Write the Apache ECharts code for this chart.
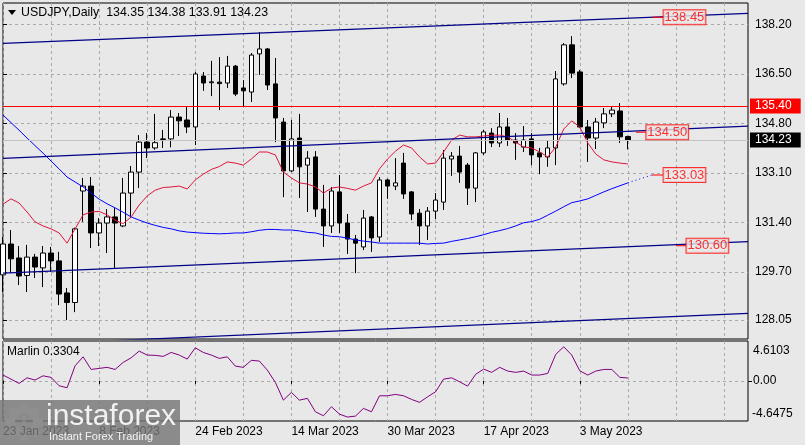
<!DOCTYPE html>
<html><head><meta charset="utf-8">
<script src="https://cdn.jsdelivr.net/npm/echarts/dist/echarts.min.js"></script>
<style>html,body{margin:0;padding:0;background:#e8e8e8;}#c{width:805px;height:445px;}</style>
</head><body><div id="c"></div>
<script>
const symbolName = 'USDJPY,Daily';
const startDate = [2023, 0, 23];
const totalSlots = 94;
const monthNames = ['Jan','Feb','Mar','Apr','May','Jun','Jul','Aug','Sep','Oct','Nov','Dec'];

const opens = [129.60,130.66,130.18,129.58,130.21,129.84,130.35,130.08,128.98,128.65,
132.48,132.65,131.04,131.38,131.59,131.28,132.41,133.13,134.16,133.96,
134.25,134.27,135.02,134.92,134.68,136.43,136.20,136.22,136.19,136.77,
136.02,135.88,137.19,137.36,136.16,134.85,133.17,134.30,133.37,133.65,
131.86,131.28,132.45,131.38,130.83,130.56,131.59,130.90,132.86,132.65,
133.44,132.45,131.72,131.28,131.79,132.10,133.58,133.68,133.37,132.58,
133.79,134.47,134.13,134.68,134.23,133.99,134.27,133.79,133.65,133.96,
136.16,137.50,136.57,134.68,134.30,134.82,135.13,135.23,134.35];
const highs = [130.90,131.14,130.59,130.63,130.32,130.59,130.56,130.39,129.15,131.22,
132.93,132.96,131.55,131.86,131.90,132.93,133.34,134.40,134.47,135.13,
134.58,135.26,135.16,135.40,136.57,136.57,136.95,137.08,137.12,136.81,
136.29,137.22,137.94,137.39,137.05,134.99,134.92,135.13,133.85,133.85,
132.69,132.62,133.03,131.69,130.97,131.83,131.62,132.96,132.90,133.61,
133.79,132.48,131.86,131.93,132.41,133.89,133.82,134.03,133.44,133.82,
134.58,134.64,135.16,134.99,134.47,134.71,134.47,133.96,134.23,136.60,
137.56,137.80,136.64,134.92,134.99,135.33,135.37,135.50,134.38];
const lows = [129.01,129.68,129.25,129.01,129.49,129.18,129.70,128.56,128.05,128.32,
131.42,130.52,130.59,130.35,129.84,131.24,131.55,132.58,133.61,133.90,
133.96,133.98,134.37,134.47,134.06,135.92,135.74,135.26,136.02,135.74,
135.37,135.54,136.47,135.95,134.16,132.27,133.13,132.24,131.76,131.59,
130.56,131.04,131.04,130.32,129.66,130.45,130.39,130.73,132.21,132.51,
132.21,131.48,130.63,130.80,131.52,131.83,133.00,132.76,132.00,132.10,
133.72,133.99,133.99,134.03,133.55,133.82,133.37,133.06,133.31,133.37,
136.10,136.36,134.64,133.48,133.92,134.64,135.02,134.13,133.91];
const closes = [130.66,130.15,129.56,130.21,129.87,130.35,130.08,128.94,128.65,131.18,
132.65,131.04,131.38,131.59,131.38,132.41,133.13,134.16,133.96,134.14,
134.27,135.02,134.89,134.68,136.50,136.19,136.23,136.17,136.77,135.81,
135.92,137.15,137.36,136.12,134.99,133.17,134.27,133.31,133.61,131.86,
131.28,132.48,131.38,130.83,130.69,131.55,130.87,132.86,132.65,132.76,
132.38,131.69,131.28,131.79,132.17,133.61,133.68,133.13,132.58,133.79,
134.51,134.13,134.68,134.23,134.13,134.23,133.72,133.65,133.96,136.33,
137.50,136.53,134.68,134.30,134.85,135.13,135.26,134.34,134.23];

const maBlue = [135.09,134.83,134.57,134.30,134.04,133.78,133.51,133.24,132.96,132.79,
132.62,132.41,132.20,132.04,131.90,131.75,131.59,131.48,131.38,131.30,
131.23,131.18,131.11,131.07,131.05,131.03,131.02,131.01,131.02,131.04,
131.04,131.08,131.13,131.16,131.16,131.14,131.14,131.11,131.06,131.04,
130.97,130.92,130.91,130.86,130.80,130.76,130.73,130.69,130.69,130.69,
130.69,130.69,130.69,130.66,130.68,130.69,130.75,130.80,130.85,130.91,
130.98,131.06,131.12,131.19,131.28,131.39,131.43,131.51,131.65,131.79,
131.94,132.08,132.14,132.21,132.33,132.45,132.56,132.66,132.76];
const maBlueForecast = 133.03;
const maBlueForecastSlot = 81;

const maRed = [132.03,132.21,132.07,131.76,131.42,131.28,131.18,131.04,130.69,131.18,
131.66,131.76,131.78,131.66,131.48,131.36,131.59,132.00,132.31,132.51,
132.60,132.62,132.65,132.55,132.86,133.06,133.22,133.32,133.48,133.44,
133.37,133.58,133.82,133.82,133.72,133.13,132.93,132.76,132.72,132.62,
132.41,132.58,132.62,132.57,132.51,132.65,132.76,133.24,133.58,133.85,
134.06,133.96,133.65,133.41,133.44,133.82,134.23,134.40,134.34,134.34,
134.37,134.40,134.40,134.34,134.16,133.99,133.96,133.82,133.65,133.99,
134.61,134.89,134.68,134.13,133.75,133.55,133.48,133.44,133.41];

const marlin = [0.67,0.20,-0.30,0.35,0.09,0.58,0.40,-0.57,-0.80,1.74,
2.78,1.32,1.44,1.56,1.32,2.13,2.67,3.44,2.98,2.95,
2.83,3.29,2.98,2.52,3.82,3.29,2.98,2.60,2.78,1.71,
1.56,2.37,2.29,1.24,-0.18,-2.23,-1.34,-2.23,-2.03,-3.58,
-4.04,-3.00,-3.85,-4.19,-4.08,-3.19,-3.58,-1.73,-1.73,-1.57,
-1.73,-2.15,-2.49,-1.85,-1.27,0.20,0.35,-0.11,-0.61,0.75,
1.36,0.98,1.56,1.13,0.98,1.13,0.67,0.67,0.86,3.06,
3.94,2.98,1.16,0.67,1.13,1.32,1.32,0.40,0.3304];

const priceTicks = [138.20,136.50,134.80,133.10,131.40,129.70,128.05];
const marlinTicks = [4.6103, 0, -4.6475];
const priceRange = [127.397, 138.938];

// trendlines: value at first slot, value at last slot
const trendUpper = [137.55, 138.585];
const trendMiddle = [133.60, 134.71];
const trendLower = [129.66, 130.74];
const trendBottom = [127.18, 128.28];
const resistance = 135.40;
const lastPrice = 134.23;

const levelLabels = ['138.45','134.50','133.03','130.60'];
const levelValues = [138.45, 134.50, 133.03, 130.60];
const levelFrom = [81.0, 79.0, 81.0, 84.0];
const levelTo = [82.4, 80.25, 82.4, 85.26];

// ---------- build ----------
const dates = [];
(function(){
  const d = new Date(Date.UTC(startDate[0], startDate[1], startDate[2]));
  while (dates.length < totalSlots) {
    const wd = d.getUTCDay();
    if (wd !== 0 && wd !== 6) dates.push(d.getUTCDate() + ' ' + monthNames[d.getUTCMonth()] + ' ' + d.getUTCFullYear());
    d.setUTCDate(d.getUTCDate() + 1);
  }
})();
const nBars = opens.length;
const lastSlot = totalSlots - 1;
const candles = opens.map((o, i) => [o, closes[i], lows[i], highs[i]]);
const FONT = 'Liberation Sans, Arial, sans-serif';
const BG = '#e8e8e8';
const gridDash = {color: '#aaaaaa', type: [3, 3], width: 1};
const labelIdx = i => i % 12 === 0 && i < nBars;
const gridIdx = i => i % 6 === 0;
const NAVY = '#000088';

function seg(vals, color, width, type) {
  return {type: 'line', xAxisIndex: 2, yAxisIndex: 0, data: [[0, vals[0]], [lastSlot, vals[1]]],
    showSymbol: false, symbol: 'none', silent: true, lineStyle: {color: color, width: width, type: type || 'solid'}, z: 5};
}

const series = [
  {type: 'candlestick', xAxisIndex: 0, yAxisIndex: 0, data: candles, barWidth: 5, clip: true,
   itemStyle: {color: '#ffffff', color0: '#000000', borderColor: '#000000', borderColor0: '#000000', borderWidth: 1},
   markLine: {symbol: ['none', 'none'], silent: true, animation: false,
     data: [
       {yAxis: lastPrice, lineStyle: {color: '#c4c4c4', width: 1, type: 'solid'},
        label: {show: true, position: 'end', formatter: lastPrice.toFixed(2), color: '#ffffff', backgroundColor: '#000000', padding: [2, 9, 1, 5], distance: 2, fontSize: 12, fontFamily: FONT}},
       {yAxis: resistance, lineStyle: {color: '#ff0000', width: 1, type: 'solid'},
        label: {show: true, position: 'end', formatter: resistance.toFixed(2), color: '#ffffff', backgroundColor: '#ff0000', padding: [2, 9, 1, 5], distance: 2, fontSize: 12, fontFamily: FONT}}
     ]}, z: 3},
  {type: 'line', xAxisIndex: 0, yAxisIndex: 0, data: maBlue, showSymbol: false, symbol: 'none', silent: true,
   lineStyle: {color: '#0000ff', width: 1}, z: 4},
  {type: 'line', xAxisIndex: 2, yAxisIndex: 0, data: [[nBars - 1, maBlue[nBars - 1]], [maBlueForecastSlot, maBlueForecast]],
   showSymbol: false, symbol: 'none', silent: true, lineStyle: {color: '#0000ff', width: 1, type: [1, 3]}, z: 4},
  {type: 'line', xAxisIndex: 0, yAxisIndex: 0, data: maRed, showSymbol: false, symbol: 'none', silent: true,
   lineStyle: {color: '#e0143c', width: 1}, z: 4},
  seg(trendUpper, NAVY, 1.2),
  seg(trendMiddle, NAVY, 1.2),
  seg(trendLower, NAVY, 1.2),
  seg(trendBottom, NAVY, 1.2),
  {type: 'line', xAxisIndex: 1, yAxisIndex: 1, data: marlin, showSymbol: false, symbol: 'none', silent: true,
   lineStyle: {color: '#800080', width: 1}}
];
levelLabels.forEach((t, k) => {
  series.push({type: 'line', xAxisIndex: 2, yAxisIndex: 0, data: [[levelFrom[k], levelValues[k]], [levelTo[k], levelValues[k]]],
    showSymbol: false, symbol: 'none', silent: true, lineStyle: {color: '#ff0000', width: 1}, z: 6});
});
series.push({type: 'scatter', xAxisIndex: 2, yAxisIndex: 0, symbolSize: 1, silent: true, z: 7,
  itemStyle: {color: 'rgba(0,0,0,0)'},
  data: levelLabels.map((t, k) => ({name: t, value: [levelTo[k], levelValues[k]]})),
  label: {show: true, position: 'right', distance: 0, formatter: '{b}', color: '#ff0000', fontSize: 13, fontFamily: FONT,
    borderColor: '#ff0000', borderWidth: 1, backgroundColor: BG, padding: [1, 1, 0, 1]}});

const last = nBars - 1;
const titleText = symbolName + '  ' + [opens[last], highs[last], lows[last], closes[last]].map(v => v.toFixed(2)).join(' ');

const gearTeeth = [];
for (let k = 0; k < 8; k++) {
  gearTeeth.push({type: 'rect', rotation: k * Math.PI / 4, shape: {x: -3.5, y: -19, width: 7, height: 8}, style: {fill: '#ffffff'}});
}

const option = {
  backgroundColor: BG,
  animation: false,
  textStyle: {fontFamily: FONT},
  grid: [
    {left: 3, top: 3, width: 745, height: 336, show: true, borderColor: '#000000', borderWidth: 1, backgroundColor: BG},
    {left: 3, top: 341, width: 745, height: 80, show: true, borderColor: '#000000', borderWidth: 1, backgroundColor: BG}
  ],
  xAxis: [
    {type: 'category', gridIndex: 0, data: dates, boundaryGap: false,
     axisLine: {show: false}, axisTick: {show: false}, axisLabel: {show: false},
     splitLine: {show: true, interval: gridIdx, lineStyle: gridDash}},
    {type: 'category', gridIndex: 1, data: dates, boundaryGap: false,
     axisLine: {show: false},
     axisTick: {show: true, interval: labelIdx, length: 3, lineStyle: {color: '#000'}},
     axisLabel: {show: true, interval: labelIdx, align: 'left', margin: 5, color: '#000', fontSize: 12, fontFamily: FONT},
     splitLine: {show: true, interval: gridIdx, lineStyle: gridDash}},
    {type: 'value', gridIndex: 0, min: 0, max: lastSlot, show: false, splitLine: {show: false}}
  ],
  yAxis: [
    {type: 'value', gridIndex: 0, position: 'right', min: priceRange[0], max: priceRange[1],
     axisLine: {show: false},
     axisTick: {show: true, customValues: priceTicks, length: 4, lineStyle: {color: '#000'}},
     axisLabel: {customValues: priceTicks, formatter: v => v.toFixed(2), color: '#000', fontSize: 12, margin: 7, fontFamily: FONT},
     splitLine: {show: true, lineStyle: gridDash}},
    {type: 'value', gridIndex: 1, position: 'right', min: marlinTicks[2], max: marlinTicks[0],
     axisLine: {show: false},
     axisTick: {show: true, customValues: [marlinTicks[1]], length: 4, lineStyle: {color: '#000'}},
     axisLabel: {customValues: [marlinTicks[1]], formatter: v => v.toFixed(2), color: '#000', fontSize: 12, margin: 5, fontFamily: FONT},
     splitLine: {show: true, lineStyle: gridDash}}
  ],
  series: series,
  graphic: [
    {type: 'polygon', z: 100, shape: {points: [[8, 10], [16, 10], [12, 15]]}, style: {fill: '#000'}},
    {type: 'text', z: 100, x: 21, y: 13, style: {text: titleText, fill: '#000', font: '12.4px ' + FONT, verticalAlign: 'middle'}},
    {type: 'text', z: 100, x: 7, y: 352, style: {text: 'Marlin ' + marlin[last].toFixed(4), fill: '#000', font: '12px ' + FONT, verticalAlign: 'middle'}},
    {type: 'text', z: 100, x: 753, y: 351, style: {text: marlinTicks[0].toFixed(4), fill: '#000', font: '12px ' + FONT, verticalAlign: 'middle'}},
    {type: 'text', z: 100, x: 752, y: 414, style: {text: marlinTicks[2].toFixed(4), fill: '#000', font: '12px ' + FONT, verticalAlign: 'middle'}},
    {type: 'rect', z: 110, shape: {x: 0, y: 400, width: 180, height: 45}, style: {fill: 'rgba(118,118,118,0.82)'}},
    {type: 'group', z: 111, x: 24, y: 422, children: gearTeeth.concat([
      {type: 'circle', shape: {cx: 0, cy: 0, r: 12}, style: {fill: 'none', stroke: '#ffffff', lineWidth: 6}},
      {type: 'circle', shape: {cx: 0, cy: -4, r: 2.5}, style: {fill: '#ffffff'}},
      {type: 'rect', shape: {x: -1.5, y: -1, width: 3, height: 8}, style: {fill: '#ffffff'}}
    ])},
    {type: 'text', z: 112, x: 46, y: 417, style: {text: 'instaforex', fill: '#f2f2f2', font: '30px ' + FONT, verticalAlign: 'middle'}},
    {type: 'text', z: 112, x: 49, y: 437, style: {text: 'Instant Forex Trading', fill: '#f2f2f2', font: '11px ' + FONT, verticalAlign: 'middle'}}
  ]
};
const chart = echarts.init(document.getElementById('c'));
chart.setOption(option);
</script>
</body></html>
